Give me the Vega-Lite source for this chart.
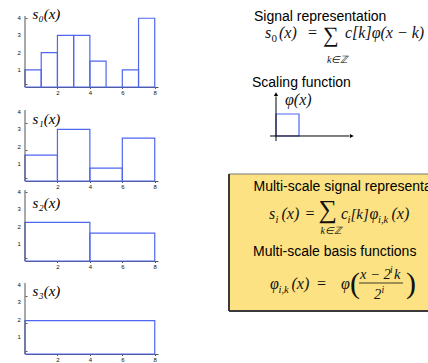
{
 "$schema": "https://vega.github.io/schema/vega-lite/v6.json",
 "padding": 0,
 "spacing": 57,
 "datasets": {
  "s0": [{"start":0,"end":1,"value":1},{"start":1,"end":2,"value":2},{"start":2,"end":3,"value":3},{"start":3,"end":4,"value":3},{"start":4,"end":5,"value":1.5},{"start":5,"end":6,"value":0},{"start":6,"end":7,"value":1},{"start":7,"end":8,"value":4}],
  "s1": [{"start":0,"end":2,"value":1.5},{"start":2,"end":4,"value":3},{"start":4,"end":6,"value":0.75},{"start":6,"end":8,"value":2.5}],
  "s2": [{"start":0,"end":4,"value":2.25},{"start":4,"end":8,"value":1.625}],
  "s3": [{"start":0,"end":8,"value":1.9375}],
  "yticks": [{"tick":1},{"tick":2},{"tick":3},{"tick":4}],
  "phi": [{"from":0,"to":1,"phi":1}]
 },
 "config": {
  "view": {"stroke": null},
  "text": {"align":"left","baseline":"alphabetic","font":"Liberation Serif","fontStyle":"italic","fontSize":16,"color":"#111"},
  "axis": {"grid":false,"labelFontSize":6,"labelColor":"#111","labelFont":"Liberation Sans","domainColor":"#555","tickColor":"#555","tickSize":1.5,"labelOverlap":false,"labelFlush":false,"labelBound":false},
  "axisX": {"labelPadding":1},
  "axisY": {"domain":false,"labels":false,"tickSize":-2}
 },
 "hconcat": [
  {
   "vconcat": [
    {"width":133,"height":71,"layer":[
     {"data":{"values":[{}]},"mark":{"type":"rule","strokeOpacity":0},"encoding":{"x":{"datum":-1.48,"type":"quantitative"},"x2":{"datum":8.385},"y":{"datum":5.0026,"type":"quantitative"}}},
     {"data":{"name":"s0"},"mark":{"type":"rect","fill":"transparent","stroke":"#4f67f0","strokeWidth":1.2},
      "encoding":{"x":{"field":"start","type":"quantitative","title":null,"scale":{"domain":[0,8.2],"nice":false,"zero":false},"axis":{"values":[2,4,6,8]}},
       "x2":{"field":"end"},
       "y":{"field":"value","type":"quantitative","title":null,"scale":{"domain":[0,4.13],"nice":false,"zero":false},"axis":{"values":[0.2,0.4,0.6,0.8,1,1.2,1.4,1.6,1.8,2,2.2,2.4,2.6,2.8,3,3.2,3.4,3.6,3.8,4]}},
       "y2":{"datum":0}}},
     {"data":{"values":[{}]},"mark":{"type":"rule","stroke":"#555","strokeWidth":1},"encoding":{"x":{"datum":0,"type":"quantitative"},"y":{"datum":0,"type":"quantitative"},"y2":{"datum":4.13}}},
     {"data":{"name":"yticks"},"mark":{"type":"text","align":"right","baseline":"middle","font":"Liberation Sans","fontStyle":"normal","fontSize":6,"color":"#111"},"encoding":{"text":{"field":"tick"},"x":{"datum":-0.25,"type":"quantitative"},"y":{"field":"tick","type":"quantitative","title":null}}},
     {"data":{"values":[{"label":"s₀(x)"}]},"mark":{"type":"text","baseline":"middle","fontSize":15,"color":"#000"},
      "encoding":{"text":{"field":"label"},"x":{"datum":0.47,"type":"quantitative"},"y":{"datum":4.24,"type":"quantitative"}}}
    ]},
    {"width":133,"height":85,"layer":[
     {"data":{"name":"s1"},"mark":{"type":"rect","fill":"transparent","stroke":"#4f67f0","strokeWidth":1.2},
      "encoding":{"x":{"field":"start","type":"quantitative","title":null,"scale":{"domain":[0,8.2],"nice":false,"zero":false},"axis":{"values":[2,4,6,8]}},
       "x2":{"field":"end"},
       "y":{"field":"value","type":"quantitative","title":null,"scale":{"domain":[0,4.945],"nice":false,"zero":false},"axis":{"values":[0.2,0.4,0.6,0.8,1,1.2,1.4,1.6,1.8,2,2.2,2.4,2.6,2.8,3,3.2,3.4,3.6,3.8,4]}},
       "y2":{"datum":0}}},
     {"data":{"values":[{}]},"mark":{"type":"rule","stroke":"#555","strokeWidth":1},"encoding":{"x":{"datum":0,"type":"quantitative"},"y":{"datum":0,"type":"quantitative"},"y2":{"datum":4.13}}},
     {"data":{"name":"yticks"},"mark":{"type":"text","align":"right","baseline":"middle","font":"Liberation Sans","fontStyle":"normal","fontSize":6,"color":"#111"},"encoding":{"text":{"field":"tick"},"x":{"datum":-0.25,"type":"quantitative"},"y":{"field":"tick","type":"quantitative","title":null}}},
     {"data":{"values":[{"label":"s₁(x)"}]},"mark":{"type":"text","baseline":"middle","fontSize":15,"color":"#000"},
      "encoding":{"text":{"field":"label"},"x":{"datum":0.47,"type":"quantitative"},"y":{"datum":3.59,"type":"quantitative"}}}
    ]},
    {"width":133,"height":71,"layer":[
     {"data":{"name":"s2"},"mark":{"type":"rect","fill":"transparent","stroke":"#4f67f0","strokeWidth":1.2},
      "encoding":{"x":{"field":"start","type":"quantitative","title":null,"scale":{"domain":[0,8.2],"nice":false,"zero":false},"axis":{"values":[2,4,6,8]}},
       "x2":{"field":"end"},
       "y":{"field":"value","type":"quantitative","title":null,"scale":{"domain":[0,4.13],"nice":false,"zero":false},"axis":{"values":[0.2,0.4,0.6,0.8,1,1.2,1.4,1.6,1.8,2,2.2,2.4,2.6,2.8,3,3.2,3.4,3.6,3.8,4]}},
       "y2":{"datum":0}}},
     {"data":{"values":[{}]},"mark":{"type":"rule","stroke":"#555","strokeWidth":1},"encoding":{"x":{"datum":0,"type":"quantitative"},"y":{"datum":0,"type":"quantitative"},"y2":{"datum":4.13}}},
     {"data":{"name":"yticks"},"mark":{"type":"text","align":"right","baseline":"middle","font":"Liberation Sans","fontStyle":"normal","fontSize":6,"color":"#111"},"encoding":{"text":{"field":"tick"},"x":{"datum":-0.25,"type":"quantitative"},"y":{"field":"tick","type":"quantitative","title":null}}},
     {"data":{"values":[{"label":"s₂(x)"}]},"mark":{"type":"text","baseline":"middle","fontSize":15,"color":"#000"},
      "encoding":{"text":{"field":"label"},"x":{"datum":0.47,"type":"quantitative"},"y":{"datum":3.39,"type":"quantitative"}}}
    ]},
    {"width":133,"height":84,"layer":[
     {"data":{"name":"s3"},"mark":{"type":"rect","fill":"transparent","stroke":"#4f67f0","strokeWidth":1.2},
      "encoding":{"x":{"field":"start","type":"quantitative","title":null,"scale":{"domain":[0,8.2],"nice":false,"zero":false},"axis":{"values":[2,4,6,8]}},
       "x2":{"field":"end"},
       "y":{"field":"value","type":"quantitative","title":null,"scale":{"domain":[0,4.887],"nice":false,"zero":false},"axis":{"values":[0.2,0.4,0.6,0.8,1,1.2,1.4,1.6,1.8,2,2.2,2.4,2.6,2.8,3,3.2,3.4,3.6,3.8,4]}},
       "y2":{"datum":0}}},
     {"data":{"values":[{}]},"mark":{"type":"rule","stroke":"#555","strokeWidth":1},"encoding":{"x":{"datum":0,"type":"quantitative"},"y":{"datum":0,"type":"quantitative"},"y2":{"datum":4.13}}},
     {"data":{"name":"yticks"},"mark":{"type":"text","align":"right","baseline":"middle","font":"Liberation Sans","fontStyle":"normal","fontSize":6,"color":"#111"},"encoding":{"text":{"field":"tick"},"x":{"datum":-0.25,"type":"quantitative"},"y":{"field":"tick","type":"quantitative","title":null}}},
     {"data":{"values":[{"label":"s₃(x)"}]},"mark":{"type":"text","baseline":"middle","fontSize":15,"color":"#000"},
      "encoding":{"text":{"field":"label"},"x":{"datum":0.47,"type":"quantitative"},"y":{"datum":3.68,"type":"quantitative"}}}
    ]}
   ],
   "spacing": 9,
   "bounds": "flush"
  },
  {
   "width": 211,
   "height": 330,
   "data": {"values": [{}]},
   "resolve": {"scale": {"x": "independent", "y": "independent"}},
   "layer": [
    {
     "layer": [
      {"mark":{"type":"rect","fill":"#fce283","clip":true},"encoding":{"x":{"datum":227,"type":"quantitative","scale":{"domain":[217,428],"nice":false,"zero":false},"axis":null},"x2":{"datum":428},"y":{"datum":173,"type":"quantitative","scale":{"domain":[15,345],"nice":false,"zero":false,"reverse":true},"axis":null},"y2":{"datum":310}}},
      {"mark":{"type":"rule","stroke":"#777","strokeWidth":1},"encoding":{"x":{"datum":227,"type":"quantitative","axis":null},"x2":{"datum":428},"y":{"datum":173,"type":"quantitative","axis":null}}},
      {"mark":{"type":"rule","stroke":"#3a3a3a","strokeWidth":2},"encoding":{"x":{"datum":227,"type":"quantitative","axis":null},"x2":{"datum":428},"y":{"datum":310,"type":"quantitative","axis":null}}},
      {"mark":{"type":"rule","stroke":"#3a3a3a","strokeWidth":2},"encoding":{"x":{"datum":227,"type":"quantitative","axis":null},"y":{"datum":173,"type":"quantitative","axis":null},"y2":{"datum":310}}},
      {"data":{"values":[{"label":"Signal representation"}]},"mark":{"type":"text","font":"Liberation Sans","fontStyle":"normal","fontSize":14,"color":"#000"},"encoding":{"text":{"field":"label"},"x":{"datum":252,"type":"quantitative","axis":null},"y":{"datum":20,"type":"quantitative","axis":null}}},
      {"mark":{"type":"text","text":"s"},"encoding":{"x":{"datum":263,"type":"quantitative","axis":null},"y":{"datum":37,"type":"quantitative","axis":null}}},
      {"mark":{"type":"text","text":"0","fontStyle":"normal","fontSize":11},"encoding":{"x":{"datum":269.5,"type":"quantitative","axis":null},"y":{"datum":40.5,"type":"quantitative","axis":null}}},
      {"mark":{"type":"text","text":"(x)"},"encoding":{"x":{"datum":277,"type":"quantitative","axis":null},"y":{"datum":37,"type":"quantitative","axis":null}}},
      {"mark":{"type":"text","text":"=","fontStyle":"normal"},"encoding":{"x":{"datum":306,"type":"quantitative","axis":null},"y":{"datum":37,"type":"quantitative","axis":null}}},
      {"mark":{"type":"text","text":"∑","fontStyle":"normal","fontSize":22},"encoding":{"x":{"datum":321,"type":"quantitative","axis":null},"y":{"datum":41,"type":"quantitative","axis":null}}},
      {"mark":{"type":"text","text":"c[k]φ(x − k)"},"encoding":{"x":{"datum":343,"type":"quantitative","axis":null},"y":{"datum":37,"type":"quantitative","axis":null}}},
      {"mark":{"type":"text","text":"k∈ℤ","fontSize":10},"encoding":{"x":{"datum":325,"type":"quantitative","axis":null},"y":{"datum":62,"type":"quantitative","axis":null}}},
      {"data":{"values":[{"label":"Scaling function"}]},"mark":{"type":"text","font":"Liberation Sans","fontStyle":"normal","fontSize":14,"color":"#000"},"encoding":{"text":{"field":"label"},"x":{"datum":250,"type":"quantitative","axis":null},"y":{"datum":86,"type":"quantitative","axis":null}}},
      {"mark":{"type":"text","text":"φ(x)","fontSize":16},"encoding":{"x":{"datum":283,"type":"quantitative","axis":null},"y":{"datum":104,"type":"quantitative","axis":null}}},
      {"data":{"values":[{"label":"Multi-scale signal representation"}]},"mark":{"type":"text","font":"Liberation Sans","fontStyle":"normal","fontSize":14,"color":"#000","clip":true},"encoding":{"text":{"field":"label"},"x":{"datum":251.5,"type":"quantitative","axis":null},"y":{"datum":190,"type":"quantitative","axis":null}}},
      {"mark":{"type":"text","text":"s"},"encoding":{"x":{"datum":267,"type":"quantitative","axis":null},"y":{"datum":218,"type":"quantitative","axis":null}}},
      {"mark":{"type":"text","text":"i","fontSize":10.5},"encoding":{"x":{"datum":273.5,"type":"quantitative","axis":null},"y":{"datum":221.5,"type":"quantitative","axis":null}}},
      {"mark":{"type":"text","text":"(x)"},"encoding":{"x":{"datum":279.5,"type":"quantitative","axis":null},"y":{"datum":218,"type":"quantitative","axis":null}}},
      {"mark":{"type":"text","text":"=","fontStyle":"normal"},"encoding":{"x":{"datum":303.5,"type":"quantitative","axis":null},"y":{"datum":218,"type":"quantitative","axis":null}}},
      {"mark":{"type":"text","text":"∑","fontStyle":"normal","fontSize":26},"encoding":{"x":{"datum":316.5,"type":"quantitative","axis":null},"y":{"datum":217,"type":"quantitative","axis":null}}},
      {"mark":{"type":"text","text":"c"},"encoding":{"x":{"datum":339,"type":"quantitative","axis":null},"y":{"datum":218,"type":"quantitative","axis":null}}},
      {"mark":{"type":"text","text":"i","fontSize":10.5},"encoding":{"x":{"datum":345.5,"type":"quantitative","axis":null},"y":{"datum":221.5,"type":"quantitative","axis":null}}},
      {"mark":{"type":"text","text":"[k]","fontSize":15},"encoding":{"x":{"datum":348.5,"type":"quantitative","axis":null},"y":{"datum":218,"type":"quantitative","axis":null}}},
      {"mark":{"type":"text","text":"φ"},"encoding":{"x":{"datum":367.5,"type":"quantitative","axis":null},"y":{"datum":218,"type":"quantitative","axis":null}}},
      {"mark":{"type":"text","text":"i,k","fontSize":10.5},"encoding":{"x":{"datum":376,"type":"quantitative","axis":null},"y":{"datum":221.5,"type":"quantitative","axis":null}}},
      {"mark":{"type":"text","text":"(x)"},"encoding":{"x":{"datum":389.5,"type":"quantitative","axis":null},"y":{"datum":218,"type":"quantitative","axis":null}}},
      {"mark":{"type":"text","text":"k∈ℤ","fontSize":10},"encoding":{"x":{"datum":318.5,"type":"quantitative","axis":null},"y":{"datum":233,"type":"quantitative","axis":null}}},
      {"data":{"values":[{"label":"Multi-scale basis functions"}]},"mark":{"type":"text","font":"Liberation Sans","fontStyle":"normal","fontSize":14,"color":"#000","clip":true},"encoding":{"text":{"field":"label"},"x":{"datum":251,"type":"quantitative","axis":null},"y":{"datum":255,"type":"quantitative","axis":null}}},
      {"mark":{"type":"text","text":"φ"},"encoding":{"x":{"datum":268,"type":"quantitative","axis":null},"y":{"datum":288,"type":"quantitative","axis":null}}},
      {"mark":{"type":"text","text":"i,k","fontSize":10.5},"encoding":{"x":{"datum":276.5,"type":"quantitative","axis":null},"y":{"datum":291.5,"type":"quantitative","axis":null}}},
      {"mark":{"type":"text","text":"(x)"},"encoding":{"x":{"datum":289.5,"type":"quantitative","axis":null},"y":{"datum":288,"type":"quantitative","axis":null}}},
      {"mark":{"type":"text","text":"=","fontStyle":"normal"},"encoding":{"x":{"datum":315,"type":"quantitative","axis":null},"y":{"datum":288,"type":"quantitative","axis":null}}},
      {"mark":{"type":"text","text":"φ"},"encoding":{"x":{"datum":339,"type":"quantitative","axis":null},"y":{"datum":288,"type":"quantitative","axis":null}}},
      {"mark":{"type":"text","text":"(","fontStyle":"normal","fontSize":30},"encoding":{"x":{"datum":348,"type":"quantitative","axis":null},"y":{"datum":292,"type":"quantitative","axis":null}}},
      {"mark":{"type":"text","text":")","fontStyle":"normal","fontSize":30},"encoding":{"x":{"datum":404,"type":"quantitative","axis":null},"y":{"datum":292,"type":"quantitative","axis":null}}},
      {"mark":{"type":"text","text":"x − 2","fontSize":14.5},"encoding":{"x":{"datum":358,"type":"quantitative","axis":null},"y":{"datum":277.5,"type":"quantitative","axis":null}}},
      {"mark":{"type":"text","text":"i","fontSize":9.5},"encoding":{"x":{"datum":388,"type":"quantitative","axis":null},"y":{"datum":272,"type":"quantitative","axis":null}}},
      {"mark":{"type":"text","text":"k","fontSize":14.5},"encoding":{"x":{"datum":392,"type":"quantitative","axis":null},"y":{"datum":277.5,"type":"quantitative","axis":null}}},
      {"mark":{"type":"rule","stroke":"#111","strokeWidth":0.8},"encoding":{"x":{"datum":357,"type":"quantitative","axis":null},"x2":{"datum":401},"y":{"datum":282,"type":"quantitative","axis":null}}},
      {"mark":{"type":"text","text":"2","fontSize":14.5},"encoding":{"x":{"datum":372,"type":"quantitative","axis":null},"y":{"datum":297.5,"type":"quantitative","axis":null}}},
      {"mark":{"type":"text","text":"i","fontSize":9.5},"encoding":{"x":{"datum":379.5,"type":"quantitative","axis":null},"y":{"datum":292,"type":"quantitative","axis":null}}}
     ]
    },
    {
     "layer": [
      {"data":{"name":"phi"},"mark":{"type":"rect","fill":"transparent","stroke":"#4f67f0","strokeWidth":1.2},
       "encoding":{"x":{"field":"from","type":"quantitative","title":null,"scale":{"domain":[-2.4783,6.6957],"nice":false,"zero":false},"axis":null},"x2":{"field":"to"},"y":{"field":"phi","type":"quantitative","title":null,"scale":{"domain":[-9.5455,5.4545],"nice":false,"zero":false},"axis":null},"y2":{"datum":0}}},
      {"mark":{"type":"rule","stroke":"#000","strokeWidth":1},"encoding":{"x":{"datum":-0.26,"type":"quantitative","axis":null},"x2":{"datum":3.2},"y":{"datum":0,"type":"quantitative","axis":null}}},
      {"mark":{"type":"rule","stroke":"#000","strokeWidth":1},"encoding":{"x":{"datum":0,"type":"quantitative","axis":null},"y":{"datum":-0.23,"type":"quantitative","axis":null},"y2":{"datum":1.8}}},
      {"mark":{"type":"point","shape":"triangle-right","filled":true,"color":"#000","size":18,"opacity":1},"encoding":{"x":{"datum":3.3,"type":"quantitative","axis":null},"y":{"datum":0,"type":"quantitative","axis":null}}},
      {"mark":{"type":"point","shape":"triangle-up","filled":true,"color":"#000","size":18,"opacity":1},"encoding":{"x":{"datum":0,"type":"quantitative","axis":null},"y":{"datum":1.9,"type":"quantitative","axis":null}}}
     ]
    }
   ]
  }
 ]
}
